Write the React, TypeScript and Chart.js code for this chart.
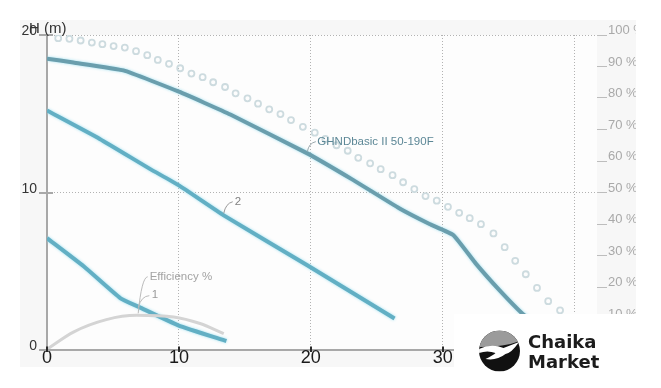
import { useEffect, useRef } from "react";
import { Chart, registerables } from "chart.js";

Chart.register(...registerables);

// ---- data ----
const xTickValues = [0, 10, 20, 30, 40];
const hTickValues = [0, 10, 20];

const seriesNames = ["GHNDbasic II 50-190F", "2", "1", "Efficiency %"];
const axisTitle = "H (m)";

const mainQ = [0, 2, 5.8, 10, 13.9, 19.7, 23.2, 26.7, 29, 30.8, 32.5, 34.3, 36.05, 37.5];
const mainH = [18.5, 18.25, 17.75, 16.4, 14.95, 12.5, 10.8, 9.0, 8.0, 7.3, 5.5, 3.8, 2.3, 1.3];

const curve2Q = [0, 4, 7.8, 10, 13.4, 19.7, 26.35];
const curve2H = [15.2, 13.4, 11.5, 10.45, 8.55, 5.4, 2.0];

const curve1Q = [0, 2.8, 5.55, 7.0, 9.95, 13.6];
const curve1H = [7.1, 5.3, 3.3, 2.72, 1.57, 0.57];

const effQ = [0, 2.0, 4.5, 6.8, 9.6, 11.6, 13.4];
const effH = [0.05, 1.14, 1.93, 2.2, 2.1, 1.68, 1.04];

const circQ = [0.85, 1.7, 2.55, 3.4, 4.2, 5.05, 5.9, 6.75, 7.6, 8.4, 9.25, 10.1, 10.95, 11.8, 12.6, 13.5, 14.3, 15.2, 16.0, 16.85, 17.7, 18.5, 19.4, 20.3, 21.1, 21.95, 22.8, 23.6, 24.5, 25.3, 26.2, 27.0, 27.85, 28.7, 29.55, 30.4, 31.25, 32.05, 32.9, 33.85, 34.7, 35.5, 36.3, 37.15, 38.0, 38.9, 39.7];
const circH = [19.8, 19.76, 19.65, 19.52, 19.42, 19.3, 19.2, 18.97, 18.72, 18.42, 18.17, 17.89, 17.55, 17.32, 17.0, 16.7, 16.3, 15.98, 15.64, 15.28, 14.98, 14.6, 14.17, 13.8, 13.4, 13.0, 12.65, 12.2, 11.85, 11.48, 11.1, 10.65, 10.22, 9.77, 9.48, 9.09, 8.71, 8.37, 7.99, 7.4, 6.53, 5.66, 4.81, 3.94, 3.1, 2.52, 1.9];

const toPts = (qs: number[], hs: number[]) => qs.map((q, i) => ({ x: q, y: hs[i] }));

const annotations = [
  { text: seriesNames[0], q: mainQ[5], h: mainH[5], color: "#5c8796", leader: "#9aa8ad", s: [0.5, -1.5], c: [2, -10], e: [9, -11.5], t: [10.5, -11.5] },
  { text: seriesNames[1], q: curve2Q[4], h: curve2H[4], color: "#808080", leader: "#999", s: [0, -2], c: [2, -12], e: [9, -13.6], t: [11, -13.6] },
  { text: seriesNames[2], q: curve1Q[3], h: curve1H[3], color: "#9a9a9a", leader: "#bbb", s: [-1, 0], c: [2, -11], e: [10, -11.5], t: [12.5, -12] },
  { text: seriesNames[3], q: effQ[3], h: effH[3], color: "#a3a3a3", leader: "#bbb", s: [1.5, -2], c: [5, -38], e: [11, -38.6], t: [13, -38.6] },
];

const haloIndexes = [2, 3, 4];

const bgPlugin = {
  id: "bg",
  beforeDraw(chart: any) {
    const { ctx, chartArea } = chart;
    ctx.save();
    ctx.fillStyle = "#ffffff";
    ctx.fillRect(0, 0, chart.width, chart.height);
    ctx.fillStyle = "#f7f7f7";
    ctx.fillRect(20, 20, 618, 347);
    ctx.fillStyle = "#fdfdfd";
    ctx.fillRect(chartArea.left, chartArea.top, chartArea.right - chartArea.left, chartArea.bottom - chartArea.top);
    ctx.restore();
  },
};

const haloPlugin = {
  id: "halo",
  beforeDatasetDraw(chart: any, args: any) {
    if (haloIndexes.includes(args.index)) {
      chart.ctx.save();
      chart.ctx.shadowColor = "rgba(150,222,240,0.9)";
      chart.ctx.shadowBlur = 3;
    }
  },
  afterDatasetDraw(chart: any, args: any) {
    if (haloIndexes.includes(args.index)) {
      chart.ctx.restore();
    }
  },
};

const ticksPlugin = {
  id: "crossTicks",
  afterDraw(chart: any) {
    const { ctx } = chart;
    const xs = chart.scales.x;
    const ys = chart.scales.y;
    ctx.save();
    ctx.lineWidth = 2;
    ctx.strokeStyle = "#a8a8a8";
    hTickValues.forEach((v) => {
      const py = Math.round(ys.getPixelForValue(v));
      ctx.beginPath();
      ctx.moveTo(xs.left - 8, py);
      ctx.lineTo(xs.left + 6, py);
      ctx.stroke();
    });
    ctx.strokeStyle = "#2a2a2a";
    xTickValues.forEach((v) => {
      const px = Math.round(xs.getPixelForValue(v));
      ctx.beginPath();
      ctx.moveTo(px, ys.bottom - 3.5);
      ctx.lineTo(px, ys.bottom + 2);
      ctx.stroke();
    });
    ctx.restore();
  },
};

const annotPlugin = {
  id: "annot",
  afterDraw(chart: any) {
    const { ctx } = chart;
    const xs = chart.scales.x;
    const ys = chart.scales.y;
    ctx.save();
    annotations.forEach((a) => {
      const px = xs.getPixelForValue(a.q);
      const py = ys.getPixelForValue(a.h);
      ctx.strokeStyle = a.leader;
      ctx.lineWidth = 1;
      ctx.beginPath();
      ctx.moveTo(px + a.s[0], py + a.s[1]);
      ctx.quadraticCurveTo(px + a.c[0], py + a.c[1], px + a.e[0], py + a.e[1]);
      ctx.stroke();
      ctx.fillStyle = a.color;
      ctx.font = "11.5px 'Liberation Sans', Arial, sans-serif";
      ctx.textBaseline = "middle";
      ctx.textAlign = "left";
      ctx.fillText(a.text, px + a.t[0], py + a.t[1]);
    });
    ctx.fillStyle = "#ffffff";
    ctx.fillRect(636, 0, chart.width - 636, chart.height);
    ctx.fillStyle = "#333";
    ctx.font = "15px 'Liberation Sans', Arial, sans-serif";
    ctx.textBaseline = "alphabetic";
    ctx.fillText(axisTitle, 29, 33.3);
    ctx.fillStyle = "#ffffff";
    ctx.fillRect(454, 314, chart.width - 454, chart.height - 314);
    const cx = 499.5, cy = 351, r = 20.5;
    ctx.save();
    ctx.beginPath();
    ctx.arc(cx, cy, r, 0, Math.PI * 2);
    ctx.clip();
    ctx.fillStyle = "#111";
    ctx.fillRect(cx - r, cy - r, 2 * r, 2 * r);
    ctx.fillStyle = "#9b9b9b";
    ctx.beginPath();
    ctx.moveTo(cx - r, cy - r);
    ctx.lineTo(cx + r, cy - r);
    ctx.lineTo(cx + r, cy - 10);
    ctx.quadraticCurveTo(cx + 5, cy - 4, cx - r, cy - 4);
    ctx.closePath();
    ctx.fill();
    ctx.fillStyle = "#ffffff";
    ctx.beginPath();
    ctx.moveTo(cx - r, cy - 2);
    ctx.quadraticCurveTo(cx - 8, cy - 8, cx + 4, cy - 3);
    ctx.lineTo(cx + r - 1, cy - 9);
    ctx.quadraticCurveTo(cx + 12, cy + 2, cx + 6, cy + 3);
    ctx.quadraticCurveTo(cx - 3, cy + 10, cx - 14, cy + 8);
    ctx.quadraticCurveTo(cx - 6, cy + 4, cx - 4, cy + 2);
    ctx.quadraticCurveTo(cx - 12, cy - 1, cx - r, cy + 2);
    ctx.closePath();
    ctx.fill();
    ctx.restore();
    ctx.fillStyle = "#1c1c1c";
    ctx.font = "bold 18px 'DejaVu Sans', sans-serif";
    ctx.textBaseline = "alphabetic";
    ctx.fillText("Chaika", 528, 348);
    ctx.fillText("Market", 528, 368);
    ctx.restore();
  },
};

export default function App() {
  const ref = useRef<HTMLCanvasElement | null>(null);

  useEffect(() => {
    if (!ref.current) return;
    const gridColor = (c: any) => (c.tick && c.tick.value === 0 ? "rgba(0,0,0,0)" : "#b2b2b2");
    const chart = new Chart(ref.current, {
      type: "line",
      data: {
        datasets: [
          {
            label: seriesNames[3],
            data: toPts(effQ, effH),
            borderColor: "#d4d4d4",
            borderWidth: 3,
            pointRadius: 0,
            fill: false,
            cubicInterpolationMode: "monotone",
          },
          {
            label: "circles",
            data: toPts(circQ, circH),
            showLine: false,
            pointRadius: 3,
            pointBorderWidth: 1.8,
            pointBorderColor: "#cddbdf",
            pointBackgroundColor: "rgba(255,255,255,0)",
            pointStyle: "circle",
          },
          {
            label: seriesNames[2],
            data: toPts(curve1Q, curve1H),
            borderColor: "#62afc4",
            borderWidth: 4,
            pointRadius: 0,
            tension: 0.15,
          },
          {
            label: seriesNames[1],
            data: toPts(curve2Q, curve2H),
            borderColor: "#62afc4",
            borderWidth: 4,
            pointRadius: 0,
            tension: 0.15,
          },
          {
            label: seriesNames[0],
            data: toPts(mainQ, mainH),
            borderColor: "#6a9ead",
            borderWidth: 4,
            pointRadius: 0,
            tension: 0.12,
          },
        ],
      },
      options: {
        animation: false,
        responsive: false,
        devicePixelRatio: 1,
        layout: { padding: { top: 35, left: 0, right: 0, bottom: 0 } },
        plugins: { legend: { display: false }, tooltip: { enabled: false } },
        scales: {
          x: {
            type: "linear",
            min: 0,
            max: 41.7,
            afterBuildTicks: (s: any) => {
              s.ticks = xTickValues.map((v) => ({ value: v }));
            },
            afterFit: (s: any) => {
              s.height = 38;
            },
            grid: { color: gridColor, lineWidth: 1, drawTicks: false },
            border: { display: true, color: "#a8a8a8", width: 2, dash: [1, 2] },
            ticks: {
              padding: -1,
              color: "#1a1a1a",
              font: { family: "'Liberation Sans Narrow', 'Arial Narrow', 'Liberation Sans', sans-serif", size: 18, lineHeight: 1 },
              maxRotation: 0,
              callback: (v: any) => String(v),
            },
          },
          y: {
            type: "linear",
            position: "left",
            min: 0,
            max: 20,
            afterBuildTicks: (s: any) => {
              s.ticks = hTickValues.map((v) => ({ value: v }));
            },
            afterFit: (s: any) => {
              s.width = 47;
            },
            grid: { color: gridColor, lineWidth: 1, drawTicks: false },
            border: { display: true, color: "#a8a8a8", width: 2, dash: [1, 2] },
            ticks: {
              padding: 10,
              color: "#333",
              font: { family: "'Liberation Sans', Arial, sans-serif", size: 14, lineHeight: 0.53 },
              callback: (v: any) => [String(v), ""],
            },
          },
          y1: {
            type: "linear",
            position: "right",
            min: 0,
            max: 100,
            afterFit: (s: any) => {
              s.width = 64;
            },
            grid: { drawOnChartArea: false, drawTicks: true, tickLength: 10, tickColor: "#bdbdbd", tickWidth: 1 },
            border: { display: false },
            ticks: {
              stepSize: 10,
              padding: 1,
              color: "#a9a9a9",
              font: { family: "'Liberation Sans', Arial, sans-serif", size: 13, lineHeight: 0.69 },
              callback: (v: any) => [`${v} %`, ""],
            },
          },
        },
      },
      plugins: [bgPlugin, haloPlugin, ticksPlugin, annotPlugin],
    } as any);
    return () => chart.destroy();
  }, []);

  return (
    <div style={{ position: "absolute", left: 0, top: 0, width: 661, height: 388 }}>
      <canvas ref={ref} width={661} height={388} style={{ display: "block", width: 661, height: 388 }} />
    </div>
  );
}
